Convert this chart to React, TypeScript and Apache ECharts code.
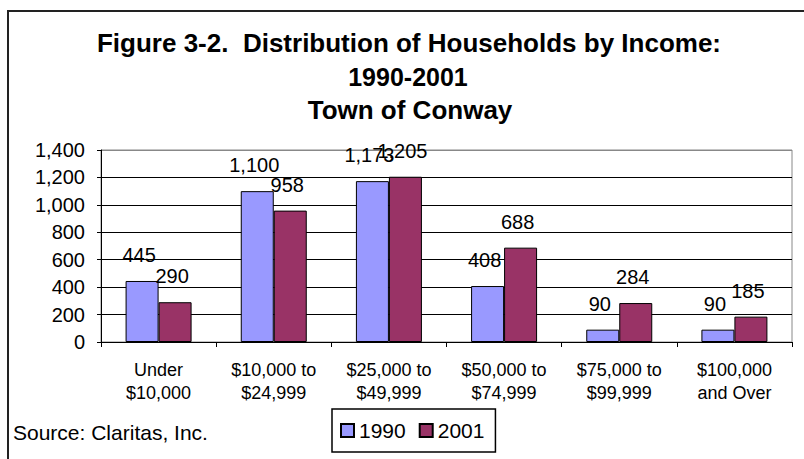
import React, { useEffect, useRef } from "react";
import * as echarts from "echarts";

const categories = [
  "Under\n$10,000",
  "$10,000 to\n$24,999",
  "$25,000 to\n$49,999",
  "$50,000 to\n$74,999",
  "$75,000 to\n$99,999",
  "$100,000\nand Over",
];
const values1990 = [445, 1100, 1173, 408, 90, 90];
const values2001 = [290, 958, 1205, 688, 284, 185];
const seriesNames = ["1990", "2001"];
const titleLines = [
  "Figure 3-2.  Distribution of Households by Income:",
  "1990-2001",
  "Town of Conway",
];
const sourceText = "Source: Claritas, Inc.";

const FONT = "'Liberation Sans', Arial, sans-serif";
const fmt = (v: number) => v.toLocaleString("en-US");

export default function App() {
  const ref = useRef<HTMLDivElement>(null);
  useEffect(() => {
    document.body.style.margin = "0";
    if (!ref.current) return;
    const chart = echarts.init(ref.current, undefined, { renderer: "svg" });
    const labelCfg = {
      show: true,
      position: "top" as const,
      distance: 16,
      offset: [-3, 0],
      color: "#000",
      fontSize: 20,
      fontFamily: FONT,
      formatter: (p: any) => fmt(p.value),
    };
    chart.setOption({
      animation: false,
      backgroundColor: "#fff",
      textStyle: { fontFamily: FONT },
      graphic: [
        {
          type: "rect",
          shape: { x: 8, y: 11, width: 900, height: 500 },
          style: { fill: "none", stroke: "#222", lineWidth: 2 },
          silent: true,
        },
        {
          type: "text",
          style: {
            text: titleLines[0],
            x: 409,
            y: 43,
            textAlign: "center",
            textVerticalAlign: "middle",
            font: `bold 26px ${FONT}`,
            fill: "#000",
          },
        },
        {
          type: "text",
          style: {
            text: titleLines[1],
            x: 408,
            y: 77,
            textAlign: "center",
            textVerticalAlign: "middle",
            font: `bold 25px ${FONT}`,
            fill: "#000",
          },
        },
        {
          type: "text",
          style: {
            text: titleLines[2],
            x: 410,
            y: 110,
            textAlign: "center",
            textVerticalAlign: "middle",
            font: `bold 26px ${FONT}`,
            fill: "#000",
          },
        },
        {
          type: "text",
          style: {
            text: sourceText,
            x: 13,
            y: 432,
            textAlign: "left",
            textVerticalAlign: "middle",
            font: `21px ${FONT}`,
            fill: "#000",
          },
        },
      ],
      legend: {
        data: seriesNames,
        left: 332,
        top: 409,
        orient: "horizontal",
        itemWidth: 13,
        itemHeight: 13,
        itemGap: 13,
        padding: [11, 11, 11, 8],
        borderColor: "#000",
        borderWidth: 1.5,
        icon: "rect",
        textStyle: { fontSize: 21, color: "#000", fontFamily: FONT },
      },
      grid: {
        left: 101,
        right: 12,
        top: 150,
        bottom: 117,
        show: true,
        borderColor: "#888",
        borderWidth: 1,
        containLabel: false,
      },
      xAxis: {
        type: "category",
        data: categories,
        axisLine: { lineStyle: { color: "#000", width: 1 } },
        axisTick: { show: true, length: 5, lineStyle: { color: "#000" } },
        axisLabel: {
          color: "#000",
          fontSize: 18,
          lineHeight: 23,
          margin: 16,
          fontFamily: FONT,
          interval: 0,
        },
      },
      yAxis: {
        type: "value",
        min: 0,
        max: 1400,
        interval: 200,
        axisLine: { show: true, lineStyle: { color: "#000", width: 1 } },
        axisTick: { show: true, length: 4, lineStyle: { color: "#000" } },
        axisLabel: {
          color: "#000",
          fontSize: 20,
          margin: 16,
          fontFamily: FONT,
          formatter: (v: number) => fmt(v),
        },
        splitLine: {
          show: true,
          lineStyle: {
            color: ["#000", "#000", "#000", "#000", "#000", "#000", "#000", "#888"],
            width: 1,
          },
        },
      },
      series: [
        {
          name: seriesNames[0],
          type: "bar",
          data: values1990,
          barWidth: 33,
          barGap: "0%",
          itemStyle: { color: "#9999FF", borderColor: "#000", borderWidth: 1 },
          label: labelCfg,
        },
        {
          name: seriesNames[1],
          type: "bar",
          data: values2001,
          barWidth: 33,
          barGap: "0%",
          itemStyle: { color: "#993366", borderColor: "#000", borderWidth: 1 },
          label: labelCfg,
        },
      ],
    });
    return () => chart.dispose();
  }, []);
  return <div ref={ref} style={{ width: 804, height: 459 }} />;
}
